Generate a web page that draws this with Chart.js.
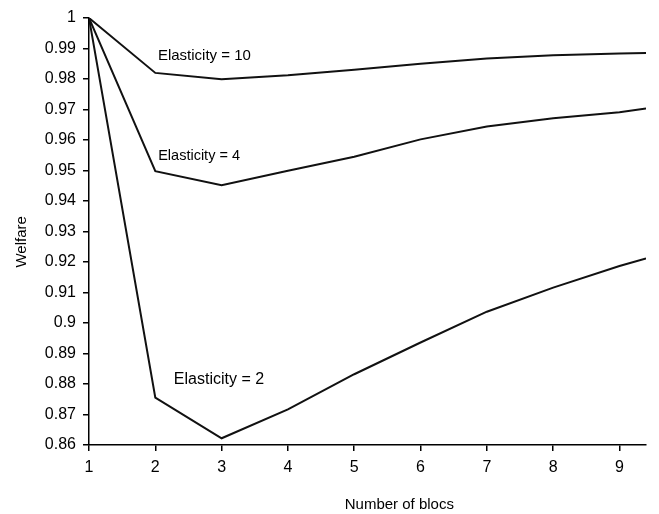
<!DOCTYPE html>
<html>
<head>
<meta charset="utf-8">
<script src="https://cdn.jsdelivr.net/npm/chart.js@4/dist/chart.umd.min.js"></script>
<style>
  html, body { margin: 0; padding: 0; background: #fff; }
  #wrap { width: 659px; height: 514px; }
</style>
</head>
<body>
<div id="wrap"><canvas id="welfareChart" width="659" height="514"></canvas></div>
<script>
// number of blocs (last point is where the curves stop at the right edge)
var blocs = [1, 2, 3, 4, 5, 6, 7, 8, 9, 9.4];

var elast10 = [1, 0.982, 0.9799, 0.9812, 0.983, 0.985, 0.9867, 0.9878, 0.9884, 0.9885];
var elast4  = [1, 0.9498, 0.9452, 0.9499, 0.9545, 0.9602, 0.9644, 0.9671, 0.9691, 0.9703];
var elast2  = [1, 0.8755, 0.8622, 0.8717, 0.8832, 0.8936, 0.9037, 0.9116, 0.9187, 0.9212];

var xTicks = [1, 2, 3, 4, 5, 6, 7, 8, 9];
var yTicks = [0.86, 0.87, 0.88, 0.89, 0.9, 0.91, 0.92, 0.93, 0.94, 0.95, 0.96, 0.97, 0.98, 0.99, 1];

// curve labels, in data units
var curveLabels = [
  { text: "Elasticity = 10", x: 2.74, y: 0.9876 },
  { text: "Elasticity = 4",  x: 2.66, y: 0.9549 },
  { text: "Elasticity = 2",  x: 2.96, y: 0.8813 }
];
var labelSizes = [15, 14.5, 16];

var xTitle = "Number of blocs";
var yTitle = "Welfare";

function toPoints(ys) {
  var pts = [];
  for (var i = 0; i < blocs.length; i++) {
    pts.push({ x: blocs[i], y: ys[i] });
  }
  return pts;
}

var FONT = "'Liberation Sans', Arial, sans-serif";

// curve labels + axis titles (titles sit a bit off-centre in the original)
var labelPlugin = {
  id: 'curveLabels',
  afterDatasetsDraw: function(chart) {
    var ctx = chart.ctx;
    var xs = chart.scales.x, ys = chart.scales.y;
    ctx.save();
    ctx.fillStyle = '#000';
    ctx.textAlign = 'center';
    ctx.textBaseline = 'middle';
    curveLabels.forEach(function(l, i) {
      ctx.font = labelSizes[i] + 'px ' + FONT;
      ctx.fillText(l.text, xs.getPixelForValue(l.x), ys.getPixelForValue(l.y));
    });

    ctx.font = '15px ' + FONT;
    ctx.fillText(xTitle, xs.getPixelForValue(5.68), chart.height - 9);

    ctx.translate(22, ys.getPixelForValue(0.9266));
    ctx.rotate(-Math.PI / 2);
    ctx.fillText(yTitle, 0, 0);
    ctx.restore();
  }
};

function lineSet(label, ys) {
  return {
    label: label,
    data: toPoints(ys),
    borderColor: '#111',
    borderWidth: 2,
    pointRadius: 0,
    tension: 0,
    fill: false
  };
}

var ctx = document.getElementById("welfareChart").getContext("2d");

var chart = new Chart(ctx, {
  type: 'line',
  data: {
    datasets: [
      lineSet("Elasticity = 10", elast10),
      lineSet("Elasticity = 4", elast4),
      lineSet("Elasticity = 2", elast2)
    ]
  },
  options: {
    responsive: false,
    animation: false,
    layout: { padding: { left: 0, right: 13, top: 18, bottom: 0 } },
    plugins: {
      legend: { display: false },
      tooltip: { enabled: false }
    },
    scales: {
      x: {
        type: 'linear',
        min: 1,
        max: 9.4,
        afterBuildTicks: function(scale) {
          scale.ticks = xTicks.map(function(v) { return { value: v }; });
        },
        afterFit: function(scale) { scale.height = 69; },
        grid: { drawOnChartArea: false, tickLength: 6, color: '#000', lineWidth: 1.5 },
        border: { display: true, color: '#000', width: 1.5 },
        ticks: {
          color: '#000',
          font: { family: FONT, size: 16 },
          padding: 7,
          maxRotation: 0,
          callback: function(v) { return String(v); }
        }
      },
      y: {
        min: 0.86,
        max: 1,
        afterBuildTicks: function(scale) {
          scale.ticks = yTicks.map(function(v) { return { value: v }; });
        },
        afterFit: function(scale) { scale.width = 89; },
        grid: { drawOnChartArea: false, tickLength: 6, color: '#000', lineWidth: 1.5 },
        border: { display: true, color: '#000', width: 1.5 },
        ticks: {
          color: '#000',
          font: { family: FONT, size: 16 },
          padding: 7,
          callback: function(v) { return String(Number(v.toFixed(2))); }
        }
      }
    }
  },
  plugins: [labelPlugin]
});
</script>
</body>
</html>
